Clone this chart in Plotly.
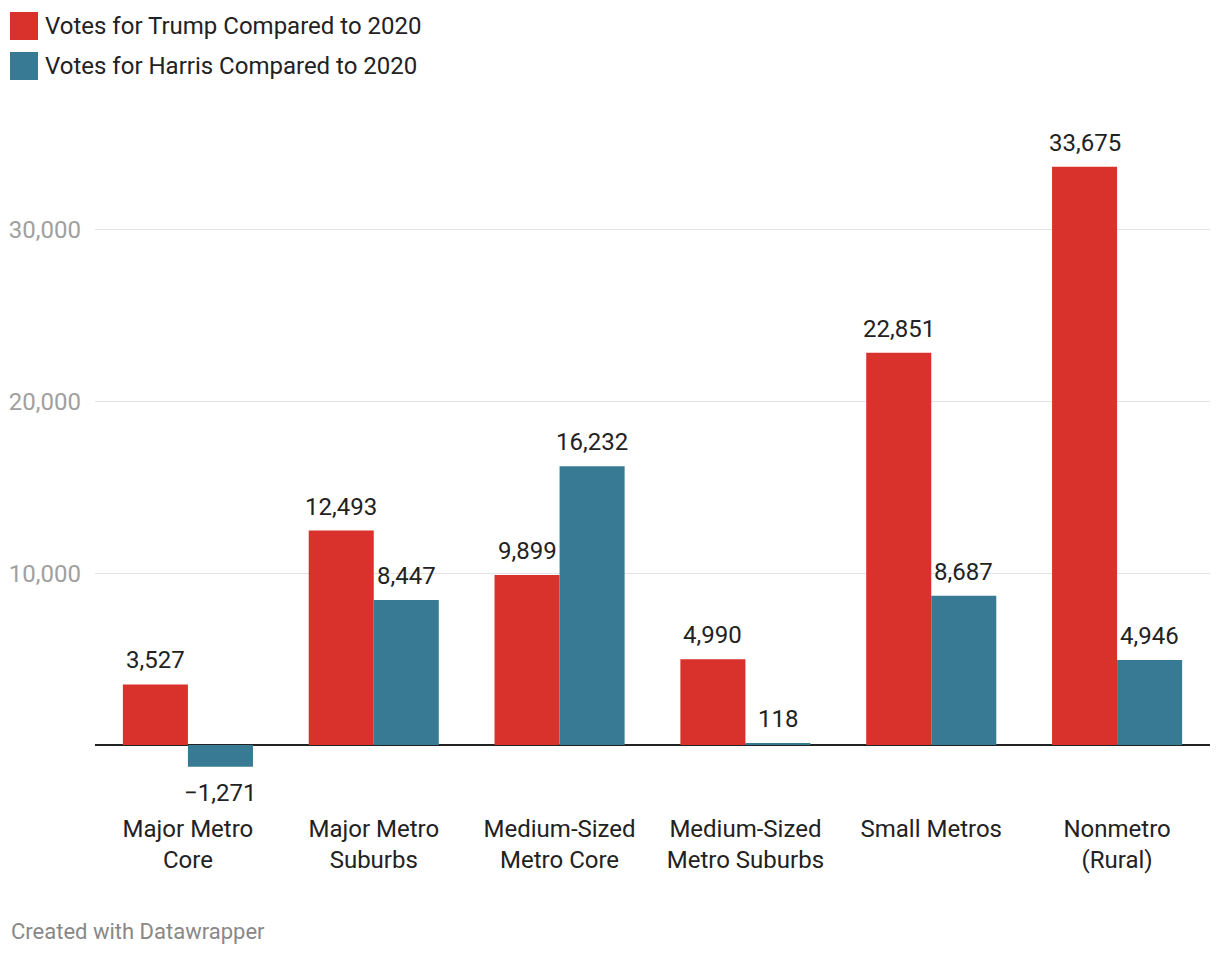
import plotly.graph_objects as go

categories = ["Major Metro<br>Core", "Major Metro<br>Suburbs", "Medium-Sized<br>Metro Core",
              "Medium-Sized<br>Metro Suburbs", "Small Metros", "Nonmetro<br>(Rural)"]
trump_votes = [3527, 12493, 9899, 4990, 22851, 33675]
harris_votes = [-1271, 8447, 16232, 118, 8687, 4946]
series_names = ["Votes for Trump Compared to 2020", "Votes for Harris Compared to 2020"]
tick_values = [10000, 20000, 30000]
tick_labels = ["10,000", "20,000", "30,000"]

RED = "#d9312b"
BLUE = "#387a94"

def fmt(v):
    s = f"{abs(v):,}"
    return ("\u2212" + s) if v < 0 else s

# pixel -> paper helpers (plot area spans x 95..1210, y 130..800)
def px(X):
    return (X - 95) / 1115

def py(Y):
    return (800 - Y) / 670

fig = go.Figure()
series = [(series_names[0], trump_votes, RED, -1), (series_names[1], harris_votes, BLUE, 1)]
for name, vals, col, side in series:
    fig.add_trace(go.Bar(
        x=categories, y=vals, name=name, marker_color=col, marker_line_width=0,
        cliponaxis=False, showlegend=False, hoverinfo="x+y+name",
    ))
    for c, v in zip(categories, vals):
        fig.add_annotation(
            x=c, y=v, xref="x", yref="y", text=fmt(v), showarrow=False,
            xshift=side * 32.5, yshift=(8 if v >= 0 else -10),
            yanchor=("bottom" if v >= 0 else "top"), xanchor="center",
            font=dict(family="Roboto", size=24, color="#222222"),
        )

fig.update_layout(
    width=1220, height=954,
    margin=dict(l=95, r=10, t=130, b=154),
    paper_bgcolor="white", plot_bgcolor="white",
    barmode="group", bargap=0.30, bargroupgap=0,
    font=dict(family="Roboto", size=20, color="#333333"),
    xaxis=dict(showgrid=False, showline=False, ticks="", ticklabelstandoff=12,
               tickfont=dict(family="Roboto", size=24, color="#222222")),
    yaxis=dict(range=[-3203, 35818], tickvals=tick_values, ticktext=tick_labels,
               showgrid=True, gridcolor="#e3e3e3", gridwidth=1,
               zeroline=True, zerolinecolor="#222222", zerolinewidth=2,
               ticks="", ticklabelstandoff=13,
               tickfont=dict(family="Roboto", size=24, color="#a0a0a0")),
)

# custom legend
for i, (name, col) in enumerate([(series_names[0], RED), (series_names[1], BLUE)]):
    y0 = 12 + i * 40
    fig.add_shape(type="rect", xref="paper", yref="paper",
                  x0=px(10), x1=px(38), y0=py(y0 + 28), y1=py(y0),
                  fillcolor=col, line_width=0)
    fig.add_annotation(text=name, xref="paper", yref="paper",
                       x=px(43), y=py(y0 + 14),
                       xanchor="left", yanchor="middle", showarrow=False,
                       font=dict(family="Roboto", size=24, color="#222222"))

fig.add_annotation(text="Created with Datawrapper", xref="paper", yref="paper",
                   x=px(9), y=py(931),
                   xanchor="left", yanchor="middle", showarrow=False,
                   font=dict(family="Roboto", size=22, color="#888888"))

fig.write_html("out.html", config={"displayModeBar": False},
               post_script="document.body.style.margin='0px';document.body.style.overflow='hidden';")
